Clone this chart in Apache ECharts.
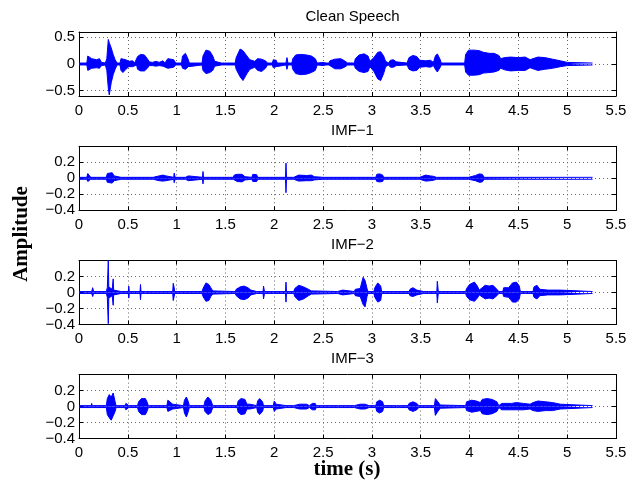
<!DOCTYPE html>
<html><head><meta charset="utf-8">
<script src="https://cdn.jsdelivr.net/npm/echarts@6/dist/echarts.min.js"></script>
<style>html,body{margin:0;padding:0;background:#fff}#c{width:641px;height:484px}</style>
</head><body><div id="c"></div>
<script>
// Panel titles
const panelTitles = ['Clean Speech', 'IMF\u22121', 'IMF\u22122', 'IMF\u22123'];
// x ticks (time, s)
const xTicks = [0, 0.5, 1, 1.5, 2, 2.5, 3, 3.5, 4, 4.5, 5, 5.5];
// y tick values per panel
const yTicksClean = [-0.5, 0, 0.5];
const yTicksImf = [-0.4, -0.2, 0, 0.2];
// Envelope of each waveform: [time, upper, lower]
// (lower omitted => symmetric)
const cleanEnv = [
[0,0.018],[0.08,0.018],[0.09,0.15,-0.12],[0.11,0.16,-0.13],[0.13,0.10,-0.08],[0.15,0.12,-0.10],[0.18,0.08,-0.07],[0.21,0.10,-0.08],[0.23,0.03],[0.27,0.02],
[0.285,0.10,-0.12],[0.30,0.46,-0.45],[0.31,0.40,-0.58],[0.33,0.30,-0.35],[0.35,0.18,-0.20],[0.37,0.08,-0.10],[0.39,0.018],
[0.42,0.018],[0.43,0.10,-0.12],[0.45,0.13,-0.16],[0.48,0.08,-0.10],[0.51,0.05],[0.53,0.018],[0.55,0.06,-0.05],[0.57,0.018],
[0.59,0.018],[0.60,0.14,-0.10],[0.63,0.18,-0.13],[0.67,0.17,-0.13],[0.70,0.10,-0.08],[0.72,0.04,-0.03],[0.75,0.03],[0.79,0.05,-0.04],[0.82,0.03],[0.86,0.06,-0.04],[0.88,0.02],
[0.91,0.10,-0.08],[0.93,0.13,-0.10],[0.97,0.08,-0.06],[0.99,0.018],
[1.05,0.018],[1.06,0.15,-0.08],[1.09,0.20,-0.10],[1.12,0.08,-0.05],[1.13,0.018],
[1.26,0.018],[1.27,0.15,-0.12],[1.30,0.26,-0.18],[1.34,0.24,-0.16],[1.37,0.15,-0.12],[1.39,0.05,-0.04],[1.41,0.018],
[1.46,0.018],[1.47,0.04,-0.03],[1.49,0.018],
[1.60,0.018],[1.61,0.12,-0.10],[1.65,0.28,-0.24],[1.68,0.25,-0.31],[1.72,0.15,-0.18],[1.75,0.08,-0.10],[1.80,0.05,-0.06],[1.83,0.10,-0.12],[1.87,0.09,-0.14],[1.91,0.06,-0.08],[1.93,0.018],
[1.98,0.018],[1.99,0.08,-0.07],[2.02,0.07,-0.05],[2.03,0.018],
[2.12,0.018],[2.13,0.12,-0.10],[2.14,0.018],
[2.18,0.018],[2.19,0.10,-0.10],[2.22,0.17,-0.18],[2.27,0.18,-0.20],[2.33,0.17,-0.19],[2.38,0.15,-0.16],[2.42,0.10,-0.12],[2.44,0.018],
[2.50,0.03],[2.53,0.018],
[2.56,0.018],[2.57,0.06,-0.05],[2.62,0.09,-0.09],[2.68,0.10,-0.09],[2.72,0.06],[2.75,0.02],
[2.82,0.018],[2.83,0.10,-0.08],[2.87,0.17,-0.14],[2.92,0.19,-0.16],[2.96,0.15,-0.14],[2.98,0.05],[3.00,0.02],
[3.02,0.12,-0.14],[3.06,0.22,-0.28],[3.09,0.23,-0.31],[3.12,0.15,-0.18],[3.14,0.05],[3.17,0.02],
[3.19,0.07,-0.06],[3.22,0.08,-0.06],[3.25,0.04,-0.03],[3.27,0.018],
[3.36,0.018],[3.38,0.12,-0.10],[3.42,0.16,-0.13],[3.46,0.14,-0.12],[3.49,0.07,-0.06],[3.55,0.06,-0.05],[3.60,0.07,-0.06],[3.63,0.03],
[3.65,0.15,-0.10],[3.67,0.19,-0.15],[3.70,0.08,-0.06],[3.71,0.018],
[3.78,0.018],[3.79,0.05],[3.80,0.018],
[3.95,0.018],[3.96,0.18,-0.15],[3.99,0.26,-0.21],[4.05,0.26,-0.21],[4.10,0.25,-0.20],[4.14,0.22,-0.17],[4.20,0.20,-0.16],[4.25,0.20,-0.15],[4.30,0.16,-0.12],
[4.32,0.10,-0.08],[4.36,0.12,-0.11],[4.42,0.13,-0.13],[4.50,0.12,-0.12],[4.57,0.13,-0.12],[4.62,0.08,-0.07],[4.65,0.10,-0.09],[4.70,0.13,-0.12],[4.77,0.12,-0.10],[4.85,0.09,-0.08],[4.93,0.06,-0.05],[5.00,0.03],[5.02,0.018],
[5.26,0.018]
];
const imf1Env = [
[0,0.012],[0.08,0.012],[0.09,0.06,-0.04],[0.11,0.04,-0.03],[0.12,0.012],
[0.18,0.012],[0.19,0.03,-0.02],[0.20,0.012],
[0.28,0.012],[0.29,0.06,-0.05],[0.31,0.08,-0.06],[0.34,0.07,-0.06],[0.36,0.03],[0.37,0.012],
[0.43,0.012],[0.44,0.03],[0.46,0.012],
[0.76,0.012],[0.77,0.035,-0.03],[0.82,0.03],[0.86,0.04,-0.035],[0.89,0.03],[0.90,0.012],
[0.97,0.012],[0.975,0.065,-0.055],[0.985,0.012],
[1.09,0.012],[1.10,0.03],[1.12,0.03],[1.13,0.012],
[1.265,0.012],[1.27,0.085,-0.07],[1.275,0.012],
[1.31,0.012],[1.32,0.03,-0.025],[1.35,0.012],
[1.58,0.012],[1.59,0.04,-0.03],[1.62,0.05,-0.04],[1.67,0.05,-0.045],[1.70,0.02],[1.71,0.012],
[1.77,0.012],[1.78,0.05,-0.04],[1.82,0.045,-0.04],[1.83,0.012],
[2.115,0.012],[2.12,0.19,-0.18],[2.125,0.012],
[2.20,0.012],[2.21,0.03],[2.25,0.04,-0.035],[2.33,0.035,-0.03],[2.38,0.04,-0.03],[2.41,0.02],[2.42,0.012],
[2.50,0.012],[2.51,0.02],[2.52,0.012],
[2.84,0.012],[2.85,0.03,-0.02],[2.86,0.012],
[3.04,0.012],[3.05,0.05,-0.04],[3.08,0.055,-0.045],[3.11,0.04],[3.12,0.012],
[3.18,0.012],[3.19,0.025],[3.20,0.012],
[3.41,0.012],[3.42,0.025],[3.43,0.012],
[3.49,0.012],[3.50,0.035,-0.03],[3.55,0.04,-0.035],[3.60,0.03],[3.63,0.025],[3.64,0.012],
[3.66,0.012],[3.67,0.025],[3.68,0.012],
[3.99,0.012],[4.00,0.035,-0.03],[4.06,0.035,-0.03],[4.10,0.055,-0.05],[4.13,0.05,-0.045],[4.15,0.012],
[5.26,0.012]
];
const imf2Env = [
[0,0.012],[0.08,0.012],[0.09,0.03,-0.02],[0.10,0.012],
[0.13,0.012],[0.14,0.06,-0.05],[0.15,0.012],
[0.28,0.012],[0.29,0.06],[0.30,0.40,-0.39],[0.305,0.07],[0.32,0.06,-0.05],[0.34,0.04],[0.35,0.17,-0.16],[0.355,0.03],[0.36,0.012],
[0.43,0.012],[0.44,0.02],[0.45,0.012],
[0.505,0.012],[0.51,0.08,-0.07],[0.515,0.012],
[0.625,0.012],[0.63,0.10,-0.09],[0.635,0.012],
[0.68,0.012],[0.69,0.02],[0.70,0.012],
[0.86,0.012],[0.87,0.02],[0.88,0.012],
[0.96,0.012],[0.965,0.115,-0.10],[0.975,0.06,-0.05],[0.98,0.012],
[1.26,0.012],[1.27,0.05],[1.30,0.12,-0.11],[1.33,0.10],[1.35,0.06,-0.05],[1.37,0.02],[1.38,0.012],
[1.60,0.012],[1.61,0.04],[1.65,0.07,-0.08],[1.69,0.08,-0.09],[1.73,0.06,-0.07],[1.76,0.03],[1.77,0.012],
[1.82,0.012],[1.83,0.02],[1.84,0.012],
[1.885,0.012],[1.89,0.08],[1.90,0.012],
[1.99,0.012],[2.00,0.02],[2.01,0.012],
[2.115,0.012],[2.12,0.13,-0.12],[2.125,0.012],
[2.20,0.012],[2.21,0.05],[2.25,0.09,-0.10],[2.30,0.07,-0.08],[2.35,0.04],[2.38,0.02],[2.39,0.012],
[2.65,0.012],[2.66,0.03],[2.70,0.03],[2.71,0.012],
[2.82,0.012],[2.83,0.04],[2.88,0.05],[2.91,0.19,-0.15],[2.93,0.15,-0.18],[2.95,0.05],[2.96,0.012],
[3.02,0.012],[3.03,0.06],[3.06,0.12],[3.09,0.08,-0.10],[3.10,0.012],
[3.38,0.012],[3.39,0.04],[3.42,0.06,-0.05],[3.46,0.03],[3.47,0.012],
[3.53,0.012],[3.54,0.02],[3.55,0.012],[3.58,0.012],[3.59,0.02],[3.60,0.012],
[3.665,0.012],[3.67,0.14,-0.13],[3.68,0.012],
[3.96,0.012],[3.97,0.05],[4.00,0.10,-0.09],[4.05,0.13,-0.11],[4.08,0.08,-0.07],[4.10,0.03],[4.12,0.05],[4.16,0.09,-0.08],[4.20,0.08,-0.07],[4.24,0.09,-0.08],[4.28,0.04],[4.30,0.012],
[4.34,0.012],[4.35,0.06,-0.05],[4.40,0.06],[4.44,0.12],[4.48,0.13,-0.12],[4.51,0.08],[4.52,0.012],
[4.57,0.012],[4.58,0.03],[4.60,0.012],
[4.65,0.012],[4.66,0.07,-0.06],[4.69,0.09,-0.08],[4.72,0.04],[4.80,0.03],[4.93,0.03],[4.94,0.012],
[5.26,0.012]
];
const imf3Env = [
[0,0.012],[0.125,0.012],[0.13,0.04,-0.03],[0.135,0.012],
[0.28,0.012],[0.29,0.10],[0.31,0.15,-0.14],[0.33,0.12,-0.17],[0.35,0.17,-0.15],[0.37,0.06],[0.38,0.012],
[0.47,0.012],[0.48,0.04],[0.50,0.03],[0.51,0.012],
[0.60,0.012],[0.61,0.06],[0.64,0.10],[0.68,0.10],[0.70,0.05],[0.71,0.012],
[0.90,0.012],[0.91,0.08,-0.06],[0.93,0.10,-0.07],[0.96,0.03],[0.97,0.012],
[1.07,0.012],[1.08,0.08],[1.10,0.12,-0.13],[1.12,0.06],[1.13,0.012],
[1.28,0.012],[1.29,0.07,-0.06],[1.32,0.12,-0.10],[1.35,0.08],[1.37,0.012],
[1.62,0.012],[1.63,0.07],[1.66,0.10],[1.70,0.09],[1.72,0.03],[1.75,0.03],[1.76,0.012],
[1.82,0.012],[1.83,0.07],[1.85,0.10],[1.88,0.06],[1.89,0.012],
[1.99,0.012],[2.00,0.07,-0.06],[2.02,0.03],[2.03,0.012],
[2.12,0.012],[2.13,0.02],[2.14,0.012],
[2.20,0.012],[2.21,0.03],[2.26,0.03],[2.28,0.04],[2.33,0.03],[2.36,0.012],[2.38,0.012],[2.39,0.04],[2.42,0.04],[2.43,0.012],
[2.66,0.012],[2.67,0.02],[2.68,0.012],
[2.82,0.012],[2.83,0.02],[2.88,0.03],[2.93,0.03],[2.97,0.012],
[3.04,0.012],[3.05,0.06],[3.08,0.08],[3.11,0.06],[3.12,0.012],
[3.25,0.012],[3.26,0.03],[3.28,0.012],
[3.37,0.012],[3.38,0.04],[3.42,0.06],[3.46,0.04],[3.48,0.012],
[3.64,0.012],[3.65,0.10,-0.11],[3.67,0.07],[3.70,0.02],[3.72,0.012],
[3.96,0.012],[3.97,0.06,-0.05],[4.02,0.08,-0.07],[4.07,0.07,-0.06],[4.11,0.05],[4.13,0.09],[4.18,0.10],[4.23,0.09],[4.28,0.06],[4.30,0.012],
[4.32,0.012],[4.33,0.04],[4.43,0.04],[4.45,0.02],[4.48,0.05,-0.04],[4.55,0.04],[4.62,0.03],[4.65,0.05],[4.70,0.07,-0.06],[4.78,0.06,-0.05],[4.85,0.05],[4.93,0.03],[4.94,0.012],
[5.26,0.012]
];

const panels = [
  {title: panelTitles[0], env: cleanEnv, min: -0.6, max: 0.6, ticks: yTicksClean},
  {title: panelTitles[1], env: imf1Env, min: -0.4, max: 0.4, ticks: yTicksImf},
  {title: panelTitles[2], env: imf2Env, min: -0.4, max: 0.4, ticks: yTicksImf},
  {title: panelTitles[3], env: imf3Env, min: -0.4, max: 0.4, ticks: yTicksImf}
];

const FONT = '"Liberation Sans", Arial, sans-serif';
const SERIF = '"Liberation Serif", "Times New Roman", serif';
const FS = 15;
const tops = [32, 146.3, 260.5, 374.6];
const H = 64, L = 79, R = 25;
const fmt = v => {
  const s = String(Math.abs(Math.round(v * 100) / 100));
  return v < 0 ? '\u2212' + s : s;
};
const grid = [], xAxis = [], yAxis = [], series = [], title = [];
const grey = '#666';
panels.forEach((p, i) => {
  grid.push({left: L, right: R, top: tops[i], height: H, containLabel: false});
  title.push({text: p.title, left: L + (641 - L - R) / 2, top: tops[i] - 28, textAlign: 'center',
    textStyle: {fontFamily: FONT, fontSize: FS, fontWeight: 'normal', color: '#000'}});
  xAxis.push({gridIndex: i, type: 'value', min: 0, max: 5.5, position: 'bottom',
    axisLine: {show: true, onZero: false, lineStyle: {color: '#000', width: 1}},
    axisTick: {show: true, inside: true, length: 4, customValues: xTicks, lineStyle: {color: '#000'}},
    axisLabel: {show: true, customValues: xTicks, margin: 7, color: '#000', fontFamily: FONT, fontSize: FS, formatter: fmt},
    splitLine: {show: true, lineStyle: {color: grey, type: [1, 3], width: 1}}});
  xAxis.push({gridIndex: i, type: 'value', min: 0, max: 5.5, position: 'top',
    axisLine: {show: true, onZero: false, lineStyle: {color: '#000', width: 1}},
    axisTick: {show: true, inside: true, length: 4, customValues: xTicks, lineStyle: {color: '#000'}},
    axisLabel: {show: false}, splitLine: {show: false}});
  yAxis.push({gridIndex: i, type: 'value', min: p.min, max: p.max, position: 'left',
    axisLine: {show: true, onZero: false, lineStyle: {color: '#000', width: 1}},
    axisTick: {show: true, inside: true, length: 4, customValues: p.ticks, lineStyle: {color: '#000'}},
    axisLabel: {show: true, customValues: p.ticks, margin: 4, color: '#000', fontFamily: FONT, fontSize: FS, formatter: fmt},
    splitLine: {show: true, lineStyle: {color: grey, type: [1, 3], width: 1}}});
  yAxis.push({gridIndex: i, type: 'value', min: p.min, max: p.max, position: 'right',
    axisLine: {show: true, onZero: false, lineStyle: {color: '#000', width: 1}},
    axisTick: {show: true, inside: true, length: 4, customValues: p.ticks, lineStyle: {color: '#000'}},
    axisLabel: {show: false}, splitLine: {show: false}});
  const upper = p.env.map(e => [e[0], e[1]]);
  const lower = p.env.map(e => [e[0], e.length > 2 ? e[2] : -e[1]]);
  [upper, lower].forEach(d => series.push({
    type: 'line', xAxisIndex: 2 * i, yAxisIndex: 2 * i, data: d, showSymbol: false, symbol: 'none',
    lineStyle: {color: '#0000ff', width: 1}, areaStyle: {color: '#0000ff', opacity: 1},
    silent: true, animation: false, z: 3
  }));
});

const chart = echarts.init(document.getElementById('c'), null, {renderer: 'canvas'});
chart.setOption({
  animation: false, backgroundColor: '#fff',
  title, grid, xAxis, yAxis, series,
  graphic: [
    {type: 'text', x: 22, y: 234, rotation: Math.PI / 2, style: {text: 'Amplitude', fontFamily: SERIF, fontWeight: 'bold', fontSize: 21, fill: '#000', align: 'center', verticalAlign: 'middle'}},
    {type: 'text', x: 347, y: 470, style: {text: 'time (s)', fontFamily: SERIF, fontWeight: 'bold', fontSize: 21, fill: '#000', align: 'center', verticalAlign: 'middle'}}
  ]
});
</script></body></html>
